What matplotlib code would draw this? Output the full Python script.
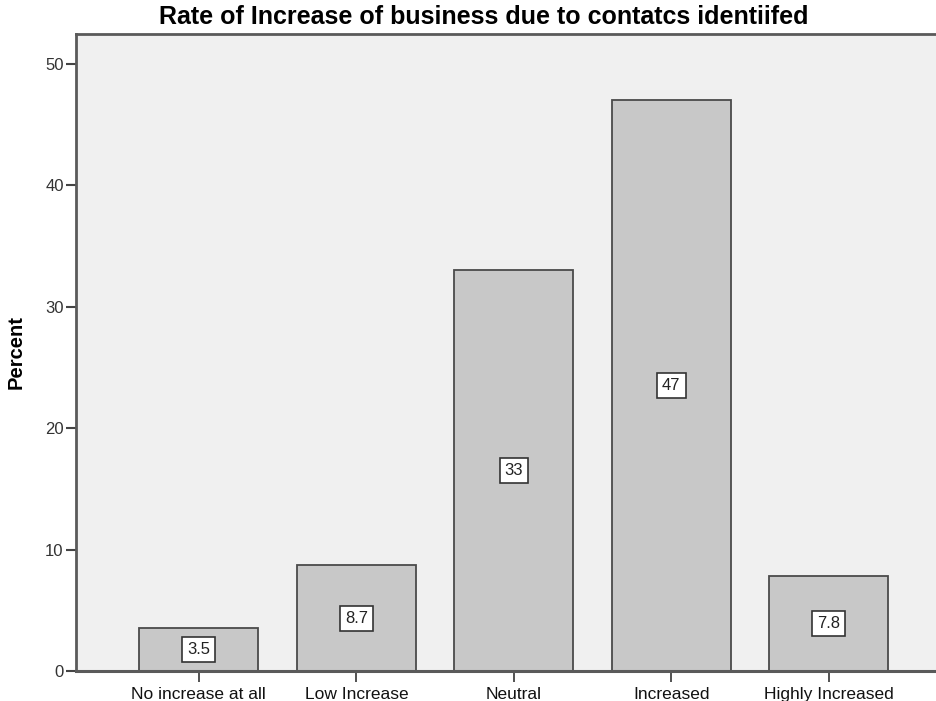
import matplotlib.pyplot as plt

categories = ["No increase at all", "Low Increase", "Neutral", "Increased", "Highly Increased"]
percent = [3.5, 8.7, 33, 47, 7.8]
y_ticks = [0, 10, 20, 30, 40, 50]

plt.rcParams['font.family'] = ['Liberation Sans', 'DejaVu Sans']

fig = plt.figure(figsize=(9.37, 7.01), dpi=100)
ax = fig.add_axes([0.0806, 0.0428, 0.9194, 0.9094])
ax.set_facecolor('#f0f0f0')

x = list(range(len(categories)))
ax.bar(x, percent, width=0.756, color='#c8c8c8', edgecolor='#4a4a4a', linewidth=1.3, zorder=2)

# value labels in small white boxes at half bar height
for xi, v in zip(x, percent):
    ax.text(xi, v / 2, f"{v:g}", ha='center', va='center', fontsize=12, color='#222222',
            bbox=dict(boxstyle='square,pad=0.3', facecolor='white', edgecolor='#333333', linewidth=1.2),
            zorder=3)

ax.set_xlim(-0.783, 4.687)
ax.set_ylim(0, 52.5)
ax.set_xticks(x)
ax.set_xticklabels(categories, fontsize=12.5)
ax.set_yticks(y_ticks)
ax.tick_params(axis='y', length=7, width=1.5, color='#444444', labelcolor='#333333', labelsize=12, pad=1.5)
ax.tick_params(axis='x', length=8, width=1.3, color='#444444', labelcolor='#111111', pad=3.5)

for side in ['left', 'bottom', 'top']:
    ax.spines[side].set_color('#5a5a5a')
ax.spines['left'].set_linewidth(2)
ax.spines['bottom'].set_linewidth(2.2)
ax.spines['top'].set_linewidth(2)
ax.spines['right'].set_visible(False)

ax.set_ylabel("Percent", fontsize=14.5, fontweight='bold')
ax.yaxis.set_label_coords(-0.058, 0.5)
ax.set_title("Rate of Increase of business due to contatcs identiifed", fontsize=18,
             fontweight='bold', pad=7, x=0.4736)

fig.savefig("out.png", dpi=100, facecolor='white')
